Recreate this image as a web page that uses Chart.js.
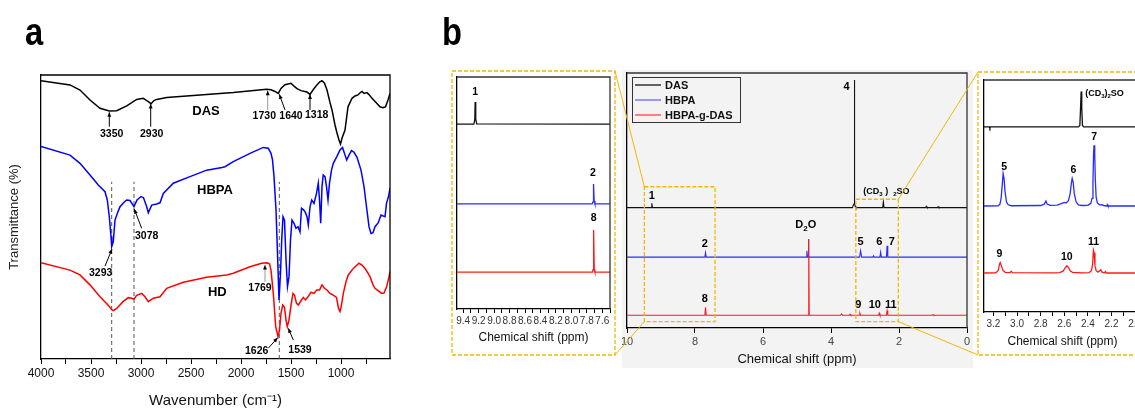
<!DOCTYPE html>
<html>
<head>
<meta charset="utf-8">
<script src="https://cdn.jsdelivr.net/npm/chart.js@4.4.0/dist/chart.umd.min.js"></script>
<style>
html, body { margin: 0; padding: 0; background: #fff; overflow: hidden; width: 1135px; height: 410px; }
.box { position: absolute; }
#overlay { position: absolute; left: 0; top: 0; pointer-events: none; }
</style>
</head>
<body>
<div class="box" style="left:0;top:0;width:400px;height:410px"><canvas id="ftir"></canvas></div>
<div class="box" id="boxM" style="left:622px;top:70px;width:351px;height:298px;background:#f3f3f3"><canvas id="nmrM"></canvas></div>
<div class="box" id="boxL" style="left:452px;top:71px;width:163px;height:284px"><canvas id="nmrL"></canvas></div>
<div class="box" id="boxR" style="left:978px;top:72px;width:170px;height:283px"><canvas id="nmrR"></canvas></div>
<canvas id="overlay" width="1135" height="410"></canvas>
<script>
// ---- FTIR (panel a), wavenumber vs transmittance (arbitrary units, 0-100)
const dasIR = [[4000,98.0],[3710,96.5],[3610,94.7],[3510,91.2],[3410,88.3],[3317,87.3],[3243,87.4],[3143,89.1],[3043,91.4],[2977,91.8],[2927,90.6],[2900,89.9],[2870,91.0],[2843,91.4],[2743,92.1],[2410,93.0],[2077,93.8],[1743,95.0],[1700,94.8],[1660,94.2],[1627,93.5],[1600,95.3],[1560,96.6],[1500,97.1],[1470,96.1],[1440,95.2],[1400,94.5],[1340,94.0],[1310,93.2],[1280,94.7],[1250,96.1],[1215,97.5],[1190,98.0],[1165,97.1],[1140,94.7],[1110,90.3],[1090,87.7],[1060,82.4],[1040,79.6],[1020,77.1],[1005,75.7],[990,77.7],[960,80.6],[930,88.8],[890,91.8],[860,92.6],[830,93.0],[800,94.0],[790,94.2],[770,93.5],[740,93.8],[720,93.1],[690,91.8],[650,90.3],[610,88.8],[580,88.5],[555,88.8],[530,91.2],[510,93.5]];
const hbpaIR = [[4000,74.8],[3710,71.8],[3610,68.9],[3510,64.8],[3427,61.3],[3360,58.9],[3337,56.0],[3317,50.1],[3300,43.1],[3293,39.6],[3277,41.3],[3260,48.9],[3230,51.9],[3210,53.6],[3170,55.2],[3143,56.0],[3110,55.8],[3070,53.6],[3040,56.0],[3000,57.2],[2975,56.8],[2943,53.6],[2927,51.5],[2893,54.2],[2843,54.6],[2810,55.0],[2777,58.3],[2677,61.9],[2510,64.2],[2343,66.5],[2190,67.4],[2160,67.7],[2077,69.5],[1910,72.4],[1777,74.5],[1727,74.2],[1700,72.4],[1685,70.1],[1670,64.2],[1650,52.5],[1635,37.2],[1620,20.8],[1605,30.2],[1593,41.9],[1580,50.1],[1565,48.9],[1550,34.9],[1535,25.5],[1520,29.0],[1505,41.9],[1490,48.9],[1470,47.8],[1450,46.0],[1430,46.6],[1410,44.8],[1395,53.1],[1375,52.5],[1360,51.9],[1340,50.1],[1327,47.2],[1310,53.6],[1293,56.0],[1270,54.8],[1245,58.3],[1227,61.9],[1215,56.0],[1203,47.8],[1190,60.7],[1178,64.8],[1160,64.2],[1145,60.7],[1130,56.0],[1115,61.9],[1095,66.5],[1077,68.9],[1043,71.2],[1010,73.6],[985,74.5],[960,71.8],[943,70.1],[920,71.8],[895,73.4],[870,72.8],[840,71.0],[800,66.5],[770,60.7],[745,53.6],[720,46.6],[700,44.2],[680,44.5],[660,46.6],[627,48.0],[600,50.7],[580,50.4],[560,50.1],[545,54.8],[525,57.2],[510,60.1]];
const hdIR = [[4000,33.9],[3710,31.3],[3610,29.6],[3510,26.1],[3410,21.9],[3330,19.0],[3290,17.3],[3277,17.0],[3243,17.8],[3180,20.2],[3127,21.6],[3093,21.4],[3070,21.1],[3043,22.4],[2993,23.1],[2960,21.9],[2927,20.2],[2877,21.4],[2810,21.9],[2743,24.9],[2577,27.0],[2343,28.8],[2143,29.6],[2077,30.2],[1910,32.5],[1793,33.7],[1740,33.9],[1715,33.5],[1700,31.3],[1677,23.1],[1653,11.4],[1630,7.9],[1615,10.2],[1600,16.1],[1583,19.0],[1565,18.2],[1550,13.7],[1537,11.4],[1520,13.7],[1500,19.0],[1480,23.1],[1465,22.5],[1445,19.6],[1427,19.0],[1400,20.5],[1377,21.7],[1355,20.8],[1330,21.9],[1300,23.5],[1270,23.1],[1243,24.3],[1215,24.3],[1190,26.1],[1165,24.9],[1140,24.3],[1110,23.1],[1077,22.5],[1045,21.7],[1025,17.8],[1010,16.7],[995,19.0],[977,23.1],[950,27.2],[927,29.6],[877,31.9],[820,33.7],[790,33.1],[760,31.9],[730,30.2],[710,29.0],[680,26.1],[660,24.9],[630,24.1],[593,23.1],[570,23.2],[543,25.5],[520,29.0],[510,30.8]];
const irGuides = [3293, 3070, 1617];
const irTicks = [4000,3750,3500,3250,3000,2750,2500,2250,2000,1750,1500,1250,1000,750];
const irTickLabels = ['4000','','3500','','3000','','2500','','2000','','1500','','1000',''];
const irTexts = [
  {x:3293,y:79.2,t:'3350'},{x:2893,y:79.2,t:'2930'},{x:1767,y:85.6,t:'1730'},{x:1500,y:85.6,t:'1640'},{x:1243,y:85.9,t:'1318'},
  {x:2350,y:87.3,t:'DAS',size:13},{x:2260,y:59.3,t:'HBPA',size:13},{x:2237,y:23.4,t:'HD',size:13},
  {x:2943,y:43.4,t:'3078'},{x:3403,y:30.4,t:'3293'},{x:1810,y:24.9,t:'1769'},{x:1843,y:2.8,t:'1626'},{x:1410,y:3.2,t:'1539'}
];
const irArrows = [
  [3317,81.8,3317,86.9],[2903,81.8,2903,89.8],[1733,87.7,1733,94.5,'#999'],[1560,87.7,1617,93.2],[1310,87.7,1310,93.2],
  [2993,46.0,3067,52.8],[3360,32.7,3290,38.7],[1760,27.2,1760,33.1,'#999'],[1727,3.8,1633,7.5],[1477,6.7,1527,10.8]
];

// ---- 1H NMR (panel b), chemical shift vs intensity (arbitrary units, 0-100)
const seriesNames = ['DAS', 'HBPA', 'HBPA-g-DAS'];
const seriesColors = ['#111111', '#2b2bff', '#ff1a1a'];
const legendColors = ['#333333', '#7a7aff', '#ff5a5a'];

const dasL = [[9.48,79.7],[9.262,79.7],[9.25,81.5],[9.245,89.2],[9.24,88.5],[9.235,82],[9.225,79.8],[7.5,79.7]];
const hbpaL = [[9.48,45.3],[7.73,45.3],[7.72,46.2],[7.713,53.9],[7.705,46.5],[7.695,45.3],[7.5,45.3]];
const hdL = [[9.48,15.9],[7.725,15.9],[7.72,17],[7.716,34.1],[7.708,34.1],[7.704,17],[7.695,15.9],[7.5,15.9]];
const leftTicks = [9.4,9.3,9.2,9.1,9.0,8.9,8.8,8.7,8.6,8.5,8.4,8.3,8.2,8.1,8.0,7.9,7.8,7.7,7.6,7.5];
const leftTickLabels = ['9.4','','9.2','','9.0','','8.8','','8.6','','8.4','','8.2','','8.0','','7.8','','7.6',''];
const leftTexts = [{x:9.245,y:93.5,t:'1'},{x:7.72,y:58.5,t:'2'},{x:7.71,y:39.1,t:'8'}];

const dasM = [[10,47.2],[9.29,47.2],[9.27,48.9],[9.25,47.2],[3.37,47.2],[3.34,48.3],[3.315,48.8],[3.31,97.3],[3.305,48.8],[3.29,47.8],[3.27,47.2],[2.48,47.2],[2.46,49.5],[2.44,47.2],[1.22,47.2],[1.2,47.7],[1.18,47.2],[0.87,47.2],[0.85,47.6],[0.83,47.2],[0,47.2]];
const hbpaM = [[10,27.8],[7.71,27.8],[7.69,29.5],[7.67,27.8],[4.73,27.8],[4.71,30.3],[4.69,27.8],[4.675,27.8],[4.665,34.9],[4.655,27.8],[3.16,27.8],[3.13,30.3],[3.10,27.8],[2.77,27.8],[2.75,28.3],[2.73,27.8],[2.56,27.8],[2.54,29.7],[2.52,27.8],[2.37,27.8],[2.35,32.2],[2.33,27.8],[0,27.8]];
const hdM = [[10,5.0],[7.71,5.0],[7.69,8.1],[7.67,5.0],[4.67,5.0],[4.655,34.9],[4.64,5.2],[4.62,5.0],[3.72,5.0],[3.69,5.5],[3.66,5.0],[3.46,5.0],[3.44,5.4],[3.42,5.0],[3.17,5.0],[3.15,5.8],[3.13,5.0],[2.60,5.0],[2.58,5.8],[2.56,5.0],[2.37,5.0],[2.35,6.8],[2.33,5.0],[1.02,5.0],[1.0,5.3],[0.98,5.0],[0,5.0]];
const midTicks = [10,8,6,4,2,0];
const midTickLabels = ['10','8','6','4','2','0'];
const midTexts = [
  {x:9.27,y:51.8,t:'1'},{x:3.54,y:94.4,t:'4'},
  {x:3.05,y:53.5,segs:[['(CD',0],['3',1],[' )  ',0],['2',1],['SO',0]],align:'left',size:9},
  {x:7.71,y:32.8,t:'2'},{x:4.74,y:40.4,segs:[['D',0],['2',1],['O',0]]},
  {x:3.13,y:33.6,t:'5'},{x:2.58,y:33.6,t:'6'},{x:2.21,y:33.6,t:'7'},
  {x:7.71,y:11.4,t:'8'},{x:3.2,y:9.0,t:'9'},{x:2.71,y:9.0,t:'10'},{x:2.24,y:9.0,t:'11'}
];
// zoomed regions marked on the middle spectrum: [ppm from, ppm to, top, bottom]
const zoomLeft = [9.49, 7.41, 55.4, 2.5];
const zoomRight = [3.27, 2.02, 50.5, 2.5];

const dasR = [[3.28,79.8],[3.235,79.8],[3.23,79.2],[3.225,79.8],[2.48,79.8],[2.468,80.4],[2.462,88],[2.457,95.0],[2.452,88],[2.446,80.4],[2.435,79.8],[1.95,79.8]];
const hbpaR = [[3.28,45.7],[3.16,45.8],[3.145,46.5],[3.135,49],[3.125,55],[3.118,59.7],[3.11,57.5],[3.102,52],[3.09,47.5],[3.075,46.2],[3.05,45.8],[2.80,45.9],[2.77,46.5],[2.755,47.8],[2.745,46.5],[2.72,46.0],[2.66,46.1],[2.62,46.8],[2.60,47.2],[2.585,47.0],[2.565,48],[2.55,51],[2.54,55.5],[2.533,57.6],[2.525,56],[2.515,51],[2.50,47.5],[2.48,46.2],[2.45,45.9],[2.40,46.0],[2.375,46.8],[2.365,49],[2.357,56],[2.352,68],[2.348,71.9],[2.342,68],[2.337,57],[2.33,49.5],[2.32,47],[2.30,46.2],[2.28,46.3],[2.27,45.9],[2.24,45.7],[2.235,46.3],[2.23,45.7],[1.95,45.7]];
const hdR = [[3.28,16.8],[3.18,16.9],[3.16,17.8],[3.15,20.3],[3.143,21.3],[3.135,20.3],[3.12,18],[3.10,17.1],[3.06,17],[3.05,17.6],[3.04,17],[2.70,16.9],[2.64,17.0],[2.61,17.6],[2.59,19.2],[2.578,19.9],[2.565,19.2],[2.55,17.8],[2.53,17.1],[2.45,16.9],[2.39,17.0],[2.37,17.8],[2.36,20.5],[2.353,26.6],[2.347,25.5],[2.34,20],[2.33,17.8],[2.315,17.2],[2.30,17.8],[2.29,18.2],[2.28,17.2],[2.26,16.9],[2.25,17.5],[2.245,16.8],[1.95,16.8]];
const rightTicks = [3.2,3.1,3.0,2.9,2.8,2.7,2.6,2.5,2.4,2.3,2.2,2.1,2.0];
const rightTickLabels = ['3.2','','3.0','','2.8','','2.6','','2.4','','2.2','','2.0'];
const rightTexts = [
  {x:2.423,y:94.3,segs:[['(CD',0],['3',1],[')',0],['2',1],['SO',0]],align:'left',size:9},
  {x:3.109,y:62.6,t:'5'},{x:2.522,y:61.2,t:'6'},{x:2.347,y:75.5,t:'7'},
  {x:3.149,y:24.9,t:'9'},{x:2.578,y:23.7,t:'10'},{x:2.353,y:30.2,t:'11'}
];

const FAM = '"Liberation Sans", Arial, sans-serif';
const ORANGE = '#f2b705';
Chart.defaults.font.family = FAM;
Chart.defaults.animation = false;
Chart.defaults.responsive = true;
Chart.defaults.maintainAspectRatio = false;
Chart.defaults.plugins.legend.display = false;
Chart.defaults.plugins.tooltip.enabled = false;

function ds(label, pts, color, w, dash) {
  return { label: label, data: pts.map(p => ({x: p[0], y: p[1]})), borderColor: color, borderWidth: w,
    borderDash: dash || [], pointRadius: 0, fill: false, tension: 0 };
}

function drawRich(ctx, segs, px, py, size, align, color) {
  const fonts = segs.map(s => 'bold ' + (s[1] ? Math.round(size * 0.72) : size) + 'px ' + FAM);
  let total = 0;
  const ws = segs.map((s, i) => { ctx.font = fonts[i]; const w = ctx.measureText(s[0]).width; total += w; return w; });
  let x = align == 'left' ? px : px - total / 2;
  ctx.fillStyle = color;
  ctx.textAlign = 'left';
  ctx.textBaseline = 'middle';
  segs.forEach((s, i) => {
    ctx.font = fonts[i];
    ctx.fillText(s[0], x, py + (s[1] ? size * 0.32 : 0));
    x += ws[i];
  });
}

function drawArrow(ctx, x1, y1, x2, y2, color) {
  ctx.strokeStyle = color || '#000';
  ctx.lineWidth = 1;
  ctx.beginPath(); ctx.moveTo(x1, y1); ctx.lineTo(x2, y2); ctx.stroke();
  const a = Math.atan2(y2 - y1, x2 - x1), s = 5;
  ctx.fillStyle = '#000';
  ctx.beginPath();
  ctx.moveTo(x2, y2);
  ctx.lineTo(x2 - s * Math.cos(a - 0.4), y2 - s * Math.sin(a - 0.4));
  ctx.lineTo(x2 - s * Math.cos(a + 0.4), y2 - s * Math.sin(a + 0.4));
  ctx.closePath(); ctx.fill();
}

// text labels and arrows, placed through the chart scales
const NOTES = {
  ftir: {texts: irTexts, arrows: irArrows, size: 10.5},
  nmrL: {texts: leftTexts, size: 10.5},
  nmrM: {texts: midTexts, size: 11},
  nmrR: {texts: rightTexts, size: 10.5}
};
const notesPlugin = {
  id: 'notes',
  afterDatasetsDraw(chart) {
    const n = NOTES[chart.canvas.id];
    const ctx = chart.ctx, x = chart.scales.x, y = chart.scales.y;
    ctx.save();
    (n.arrows || []).forEach(a => drawArrow(ctx, x.getPixelForValue(a[0]), y.getPixelForValue(a[1]),
      x.getPixelForValue(a[2]), y.getPixelForValue(a[3]), a[4]));
    n.texts.forEach(t => drawRich(ctx, t.segs || [[t.t, 0]], x.getPixelForValue(t.x), y.getPixelForValue(t.y),
      t.size || n.size, t.align || 'center', '#000'));
    ctx.restore();
  }
};

// top and right edges of the plot frame
const framePlugin = {
  id: 'frame',
  afterDraw(chart) {
    const a = chart.chartArea, ctx = chart.ctx;
    ctx.save();
    ctx.strokeStyle = chart.canvas.id == 'ftir' ? '#000' : '#333';
    ctx.lineWidth = 1.3;
    ctx.beginPath();
    ctx.moveTo(a.left, a.top); ctx.lineTo(a.right, a.top); ctx.lineTo(a.right, a.bottom);
    ctx.stroke();
    ctx.restore();
  }
};

function drawOverlay(chart) {
  const o = document.getElementById('overlay').getContext('2d');
  o.clearRect(0, 0, 1135, 410);
  o.save();
  o.fillStyle = '#000';
  o.textBaseline = 'alphabetic';
  o.font = 'bold 38px ' + FAM;
  o.setTransform(0.86, 0, 0, 1, 0, 0);
  o.fillText('a', 25 / 0.86, 45);
  o.fillText('b', 442 / 0.86, 45);
  o.setTransform(1, 0, 0, 1, 0, 0);

  const holder = chart.canvas.parentNode;
  const ox = holder.offsetLeft, oy = holder.offsetTop;
  const x = chart.scales.x, y = chart.scales.y;
  const rect = z => ({l: ox + x.getPixelForValue(z[0]), r: ox + x.getPixelForValue(z[1]),
    t: oy + y.getPixelForValue(z[2]), b: oy + y.getPixelForValue(z[3])});
  const mL = rect(zoomLeft), mR = rect(zoomRight);
  const bL = document.getElementById('boxL'), bR = document.getElementById('boxR');
  const iL = {l: bL.offsetLeft, r: bL.offsetLeft + bL.offsetWidth, t: bL.offsetTop, b: bL.offsetTop + bL.offsetHeight};
  const iR = {l: bR.offsetLeft, r: bR.offsetLeft + bR.offsetWidth, t: bR.offsetTop, b: bR.offsetTop + bR.offsetHeight};

  o.strokeStyle = ORANGE;
  o.lineWidth = 1.3;
  o.setLineDash([4, 2]);
  [mL, mR, iL, iR].forEach(r => o.strokeRect(r.l, r.t, r.r - r.l, r.b - r.t));
  o.setLineDash([]);
  o.lineWidth = 1;
  o.beginPath();
  o.moveTo(iL.r, iL.t); o.lineTo(mL.l, mL.t);
  o.moveTo(iL.r, iL.b); o.lineTo(mL.l, mL.b);
  o.moveTo(mR.r, mR.t); o.lineTo(iR.l, iR.t);
  o.moveTo(mR.r, mR.b); o.lineTo(iR.l, iR.b);
  o.stroke();
  o.restore();
}

const midPlugin = {
  id: 'midLegend',
  afterDraw(chart) {
    const a = chart.chartArea, ctx = chart.ctx;
    const bx = a.left + 5, by = a.top + 4;
    ctx.save();
    ctx.strokeStyle = '#333';
    ctx.lineWidth = 1;
    ctx.strokeRect(bx + 0.5, by + 0.5, 108, 45);
    seriesNames.forEach((name, i) => {
      const yy = by + 8 + i * 15;
      ctx.strokeStyle = legendColors[i];
      ctx.lineWidth = 1.5;
      ctx.beginPath(); ctx.moveTo(bx + 3, yy); ctx.lineTo(bx + 29, yy); ctx.stroke();
      ctx.fillStyle = '#111';
      ctx.font = 'bold 11px ' + FAM;
      ctx.textAlign = 'left';
      ctx.textBaseline = 'middle';
      ctx.fillText(name, bx + 33, yy + 0.5);
    });
    ctx.restore();
    drawOverlay(chart);
  }
};

function xAxis(min, max, ticks, labels, size, tickLen, height, title, titleSize, titlePad, color) {
  return {
    type: 'linear', reverse: true, min: min, max: max,
    afterBuildTicks: s => { s.ticks = ticks.map(v => ({value: v})); },
    afterFit: s => { s.height = height; s.paddingLeft = 0; s.paddingRight = 0; },
    ticks: {callback: (v, i) => labels[i], autoSkip: false, maxRotation: 0, minRotation: 0,
      font: {size: size}, color: color, padding: 2},
    grid: {drawOnChartArea: false, tickLength: tickLen, color: '#000', lineWidth: 1},
    border: {color: '#000', width: 1.3},
    title: {display: true, text: title, font: {size: titleSize}, color: '#111', padding: {top: 0, bottom: titlePad}}
  };
}
function yAxis(width, title) {
  const ax = {
    min: 0, max: 100,
    afterFit: s => { s.width = width; },
    ticks: {display: false}, grid: {display: false},
    border: {color: '#000', width: 1.3}
  };
  if (title) ax.title = {display: true, text: title, font: {size: 13}, color: '#222', padding: {top: 7, bottom: 0}};
  return ax;
}

new Chart(document.getElementById('ftir'), {
  type: 'line',
  data: {datasets: [
    ds('DAS', dasIR, '#000', 1.5),
    ds('HBPA', hbpaIR, '#0000ff', 1.5),
    ds('HD', hdIR, '#ff0000', 1.5)
  ].concat(irGuides.map(g => ds('', [[g, 0], [g, 62.4]], '#555', 1, [4, 3])))},
  options: {
    layout: {padding: {top: 75, right: 10, left: 0, bottom: 0}},
    scales: {
      x: xAxis(510, 4000, irTicks, irTickLabels, 12, 5, 51, 'Wavenumber (cm\u207B\u00B9)', 15, 0, '#111'),
      y: yAxis(41, 'Transmittance (%)')
    }
  },
  plugins: [notesPlugin, framePlugin]
});

new Chart(document.getElementById('nmrL'), {
  type: 'line',
  data: {datasets: [ds(seriesNames[0], dasL, seriesColors[0], 1.3), ds(seriesNames[1], hbpaL, seriesColors[1], 1.3), ds(seriesNames[2], hdL, seriesColors[2], 1.3)]},
  options: {
    layout: {padding: {top: 6, right: 5, left: 0, bottom: 0}},
    scales: {
      x: xAxis(7.5, 9.48, leftTicks, leftTickLabels, 10, 4, 46, 'Chemical shift (ppm)', 12, 10, '#333'),
      y: yAxis(5)
    }
  },
  plugins: [notesPlugin, framePlugin]
});

new Chart(document.getElementById('nmrM'), {
  type: 'line',
  data: {datasets: [ds(seriesNames[0], dasM, seriesColors[0], 1.1), ds(seriesNames[2], hdM, seriesColors[2], 1.1), ds(seriesNames[1], hbpaM, seriesColors[1], 1.1)]},
  options: {
    layout: {padding: {top: 3, right: 6, left: 0, bottom: 0}},
    scales: {
      x: xAxis(0, 10, midTicks, midTickLabels, 11, 5, 40, 'Chemical shift (ppm)', 13, 1, '#444'),
      y: yAxis(5)
    }
  },
  plugins: [notesPlugin, framePlugin, midPlugin]
});

new Chart(document.getElementById('nmrR'), {
  type: 'line',
  data: {datasets: [ds(seriesNames[0], dasR, seriesColors[0], 1.3), ds(seriesNames[1], hbpaR, seriesColors[1], 1.3), ds(seriesNames[2], hdR, seriesColors[2], 1.3)]},
  options: {
    layout: {padding: {top: 8, right: 7, left: 0, bottom: 0}},
    scales: {
      x: xAxis(1.95, 3.28, rightTicks, rightTickLabels, 10, 4, 43, 'Chemical shift (ppm)', 12, 6, '#333'),
      y: yAxis(6)
    }
  },
  plugins: [notesPlugin, framePlugin]
});
</script>
</body>
</html>
